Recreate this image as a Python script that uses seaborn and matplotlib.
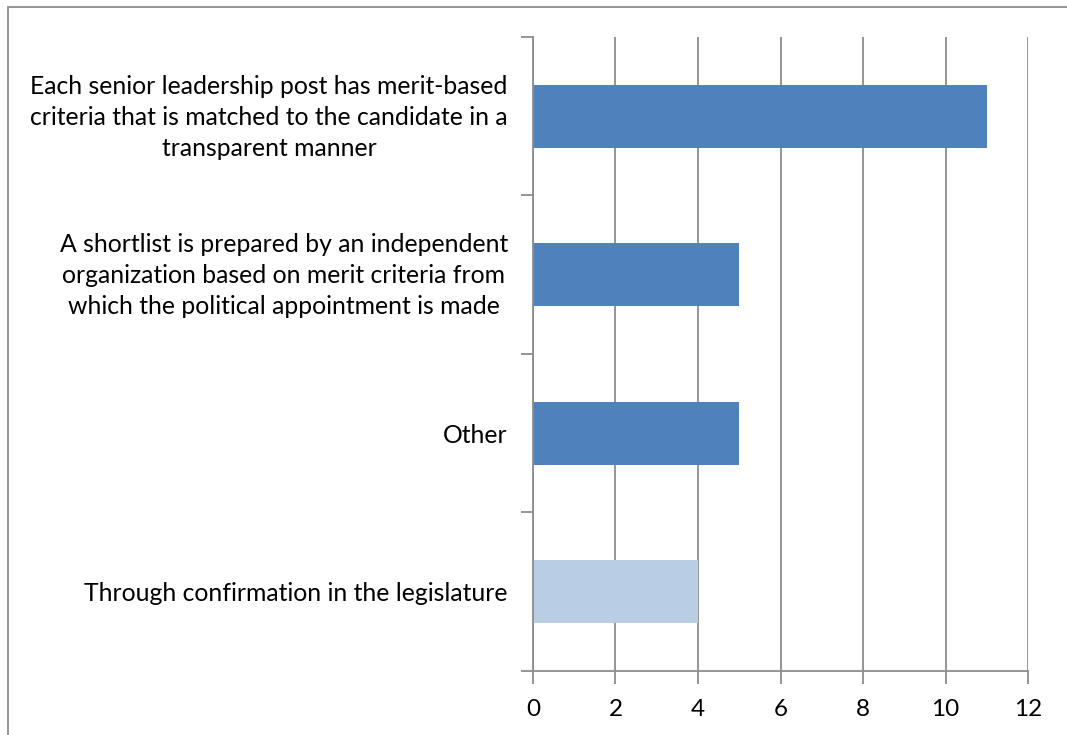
import matplotlib
matplotlib.use("Agg")
import matplotlib.pyplot as plt
import matplotlib.transforms as mtransforms
import seaborn as sns
import pandas as pd

categories = [
    "Each senior leadership post has merit-based\ncriteria that is matched to the candidate in a\ntransparent manner",
    "A shortlist is prepared by an independent\norganization based on merit criteria from\nwhich the political appointment is made",
    "Other",
    "Through confirmation in the legislature",
]
values = [11, 5, 5, 4]
bar_colors = ["#4F81BD", "#4F81BD", "#4F81BD", "#B9CDE5"]
x_ticks = [0, 2, 4, 6, 8, 10, 12]

sns.set_theme(style="white")
plt.rcParams["font.family"] = ["Lato", "DejaVu Sans"]

df = pd.DataFrame({"category": categories, "value": values})

fig = plt.figure(figsize=(10.67, 7.35), dpi=100)
ax = fig.add_axes([0.4995, 0.0871, 0.4640, 0.8626])

sns.barplot(data=df, x="value", y="category", hue="category",
            palette=dict(zip(categories, bar_colors)), legend=False,
            width=0.4, saturation=1, linewidth=0, ax=ax)

grid_color = "#8C8C8C"
ax.set_xlim(0, 12)
ax.set_ylim(len(categories) - 0.5, -0.5)
ax.set_xticks(x_ticks)
ax.set_xticklabels([str(t) for t in x_ticks], fontsize=17.5, color="black")
ax.xaxis.grid(True, color=grid_color, linewidth=1.3)
ax.set_axisbelow(True)
ax.set_xlabel("")
ax.set_ylabel("")

ax.set_yticks(range(len(categories)))
ax.set_yticklabels(categories, fontsize=17.8, color="black", ha="right",
                   multialignment="center", linespacing=1.42)
ax.set_yticks([i - 0.5 for i in range(len(categories) + 1)], minor=True)
ax.tick_params(axis="y", which="major", length=0, pad=18)
ax.tick_params(axis="y", which="minor", length=9, width=1.3, color=grid_color, direction="out", left=True)
ax.tick_params(axis="x", which="major", length=9, width=1.3, color=grid_color, direction="out", bottom=True, pad=11)

# nudge multi-line category labels so their block is centred on the bar
lift = mtransforms.ScaledTranslation(0, 5 / 100, fig.dpi_scale_trans)
for lbl in ax.get_yticklabels():
    if "\n" in lbl.get_text():
        lbl.set_transform(lbl.get_transform() + lift)

for side in ["top", "right"]:
    ax.spines[side].set_visible(False)
for side in ["left", "bottom"]:
    ax.spines[side].set_color(grid_color)
    ax.spines[side].set_linewidth(1.3)

# outer chart frame
frame = plt.Rectangle((8 / 1067, -0.1), 1.2, 1.1 - 7 / 735, transform=fig.transFigure,
                      fill=False, edgecolor="#8C8C8C", linewidth=1.3)
fig.patches.append(frame)

fig.savefig("out.png", dpi=100)
